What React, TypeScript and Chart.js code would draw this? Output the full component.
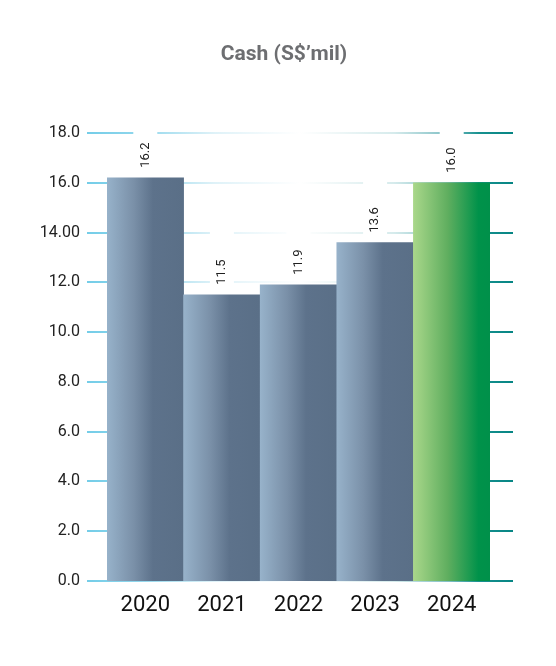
import React, { useEffect, useRef } from "react";
import { Chart, registerables } from "chart.js";

Chart.register(...registerables);

const years = ["2020", "2021", "2022", "2023", "2024"];
const cashValues = [16.2, 11.5, 11.9, 13.6, 16.0];
const valueLabels = ["16.2", "11.5", "11.9", "13.6", "16.0"];
const yTickValues = [0, 2, 4, 6, 8, 10, 12, 14, 16, 18];
const yTickLabels = ["0.0", "2.0", "4.0", "6.0", "8.0", "10.0", "12.0", "14.00", "16.0", "18.0"];
const chartTitle = "Cash (S$\u2019mil)";

const FONT = "Roboto, 'Noto Sans', sans-serif";

const gridPlugin = {
  id: "gradGrid",
  beforeDatasetsDraw(chart: any) {
    const { ctx, chartArea, scales } = chart;
    const x0 = chartArea.left - 20;
    const x1 = chartArea.right + 23;
    const g = ctx.createLinearGradient(x0, 0, x1, 0);
    g.addColorStop(0, "#74cde8");
    g.addColorStop(0.12, "#8fd6ec");
    g.addColorStop(0.3, "#dff2f8");
    g.addColorStop(0.5, "#ffffff");
    g.addColorStop(0.72, "#d6ebec");
    g.addColorStop(0.85, "#7fbfc4");
    g.addColorStop(0.92, "#17918f");
    g.addColorStop(1, "#068584");
    ctx.save();
    ctx.strokeStyle = g;
    ctx.lineWidth = 2;
    yTickValues.forEach((v) => {
      const y = Math.round(scales.y.getPixelForValue(v));
      ctx.beginPath();
      ctx.moveTo(x0, y);
      ctx.lineTo(x1, y);
      ctx.stroke();
    });
    ctx.restore();
  },
  afterDatasetsDraw(chart: any) {
    const { ctx } = chart;
    const meta = chart.getDatasetMeta(0);
    ctx.save();
    meta.data.forEach((bar: any, i: number) => {
      const top = bar.y;
      const cx = bar.x;
      ctx.fillStyle = "#ffffff";
      ctx.fillRect(cx - 12, top - 74, 24, 70);
      ctx.save();
      ctx.translate(cx, top - 10);
      ctx.rotate(-Math.PI / 2);
      ctx.fillStyle = "#1f1f1f";
      ctx.font = `13px ${FONT}`;
      ctx.textAlign = "left";
      ctx.textBaseline = "middle";
      ctx.fillText(valueLabels[i], 0, 0);
      ctx.restore();
    });
    ctx.restore();
  },
  afterDraw(chart: any) {
    const { ctx } = chart;
    ctx.save();
    ctx.fillStyle = "#6d6e71";
    ctx.font = `bold 21px ${FONT}`;
    ctx.textAlign = "center";
    ctx.textBaseline = "middle";
    ctx.fillText(chartTitle, 284, 55);
    ctx.restore();
  },
};

function barColor(context: any) {
  const chart = context.chart;
  const xs = chart.scales?.x;
  const i = context.dataIndex;
  const isLast = i === years.length - 1;
  if (!chart.chartArea || !xs) return isLast ? "#4caf50" : "#6f86a0";
  const cx = xs.getPixelForValue(i);
  const w = xs.width / years.length;
  const g = chart.ctx.createLinearGradient(cx - w / 2, 0, cx + w / 2, 0);
  if (isLast) {
    g.addColorStop(0, "#a9d78a");
    g.addColorStop(0.45, "#5fae5f");
    g.addColorStop(0.85, "#00924a");
    g.addColorStop(1, "#00904a");
  } else {
    g.addColorStop(0, "#97b2ca");
    g.addColorStop(0.35, "#7a90a8");
    g.addColorStop(0.6, "#5d728b");
    g.addColorStop(1, "#5a6f87");
  }
  return g;
}

export default function App() {
  const ref = useRef<HTMLCanvasElement>(null);
  useEffect(() => {
    if (!ref.current) return;
    const chart = new Chart(ref.current, {
      type: "bar",
      data: {
        labels: years,
        datasets: [
          {
            data: cashValues,
            backgroundColor: barColor as any,
            borderWidth: 0,
            barPercentage: 1,
            categoryPercentage: 1,
          },
        ],
      },
      options: {
        animation: false,
        responsive: false,
        maintainAspectRatio: false,
        layout: { padding: { left: 0, right: 66, top: 133, bottom: 35 } },
        plugins: {
          legend: { display: false },
          tooltip: { enabled: false },
          title: { display: false },
        },
        scales: {
          x: {
            grid: { display: false, drawTicks: false },
            border: { display: false },
            ticks: {
              color: "#111111",
              font: { family: FONT, size: 22 },
              padding: 11,
            },
            afterFit: (s: any) => {
              s.height = 50;
            },
          },
          y: {
            min: 0,
            max: 18,
            grid: { display: false, drawTicks: false },
            border: { display: false },
            afterFit: (s: any) => {
              s.width = 107;
            },
            afterBuildTicks: (s: any) => {
              s.ticks = yTickValues.map((v) => ({ value: v }));
            },
            ticks: {
              color: "#222222",
              font: { family: FONT, size: 16 },
              padding: 27,
              callback: (_v: any, idx: number) => yTickLabels[idx],
            },
          },
        },
      },
      plugins: [gridPlugin],
    });
    return () => chart.destroy();
  }, []);
  return (
    <div style={{ position: "fixed", left: 0, top: 0, width: 556, height: 666, background: "#fff" }}>
      <canvas ref={ref} width={556} height={666} style={{ width: 556, height: 666 }} />
    </div>
  );
}
